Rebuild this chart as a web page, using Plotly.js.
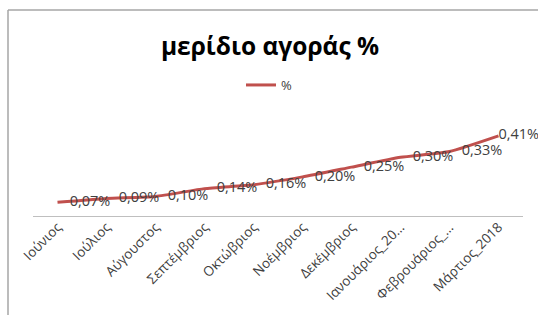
<!DOCTYPE html>
<html>
<head>
<meta charset="utf-8">
<script src="https://cdn.plot.ly/plotly-3.0.1.min.js"></script>
<style>
html,body{margin:0;padding:0;background:#fff;}
#chart{width:538px;height:315px;}
</style>
</head>
<body>
<div id="chart"></div>
<script>
const categories = ["Ιούνιος","Ιούλιος","Αύγουστος","Σεπτέμβριος","Οκτώβριος","Νοέμβριος","Δεκέμβριος","Ιανουάριος_20…","Φεβρουάριος_…","Μάρτιος_2018"];
const values = [0.07, 0.09, 0.10, 0.14, 0.16, 0.20, 0.25, 0.30, 0.33, 0.41];
const labels = ["0,07%","0,09%","0,10%","0,14%","0,16%","0,20%","0,25%","0,30%","0,33%","0,41%"];
const seriesName = "%";
const titleText = "μερίδιο αγοράς %";

const W = 538, H = 315;
const ml = 33, mr = 15, mt = 128, mb = 99;
const pw = W - ml - mr, ph = H - mt - mb;
const fx = (8 - ml) / pw;
const fyTop = (H - mb - 10) / ph;
const fyBot = (H - mb - H - 5) / ph;
const fxRight = (W + 5 - ml) / pw;

const markerSizes = values.map((v, i) => i === values.length - 1 ? 0 : 18);

const trace = {
  x: categories,
  y: values,
  name: seriesName,
  type: 'scatter',
  mode: 'lines+markers+text',
  line: {color: '#C0504D', width: 3, shape: 'spline', smoothing: 0.5},
  marker: {size: markerSizes, color: 'rgba(0,0,0,0)', opacity: 0, line: {width: 0, color: 'rgba(0,0,0,0)'}},
  text: labels,
  textposition: 'middle right',
  textfont: {family: 'Open Sans, sans-serif', size: 14.5, color: '#404040'},
  cliponaxis: false,
  hoverinfo: 'skip'
};

const layout = {
  width: W, height: H,
  margin: {l: ml, r: mr, t: mt, b: mb},
  paper_bgcolor: 'rgba(0,0,0,0)',
  plot_bgcolor: 'rgba(0,0,0,0)',
  title: {
    text: '<b>' + titleText + '</b>',
    font: {family: 'Open Sans, sans-serif', size: 24.5, color: '#000'},
    x: 270 / W, xanchor: 'center', xref: 'container',
    y: 1 - 46 / H, yanchor: 'middle', yref: 'container'
  },
  showlegend: true,
  legend: {
    orientation: 'h',
    x: 0.5, xanchor: 'center', xref: 'container',
    y: 1 - 85 / H, yanchor: 'middle', yref: 'container',
    font: {family: 'Open Sans, sans-serif', size: 13, color: '#404040'},
    itemwidth: 30
  },
  xaxis: {
    type: 'category',
    showgrid: false,
    showline: true, linecolor: '#bfbfbf', linewidth: 1,
    ticks: '',
    tickangle: -45,
    ticklabelstandoff: -3,
    tickfont: {family: 'Open Sans, sans-serif', size: 13.5, color: '#404040'},
    range: [-0.5, categories.length - 0.5],
    fixedrange: true
  },
  yaxis: {
    range: [0, 0.45],
    visible: false,
    showgrid: false,
    zeroline: false,
    fixedrange: true
  },
  shapes: [
    {type: 'line', xref: 'paper', yref: 'paper', x0: fx, x1: fx, y0: fyBot, y1: fyTop, line: {color: '#a6a6a6', width: 1.5}},
    {type: 'line', xref: 'paper', yref: 'paper', x0: fx, x1: fxRight, y0: fyTop, y1: fyTop, line: {color: '#a6a6a6', width: 1.5}}
  ]
};

Plotly.newPlot('chart', [trace], layout, {displayModeBar: false, staticPlot: true});
</script>
</body>
</html>
